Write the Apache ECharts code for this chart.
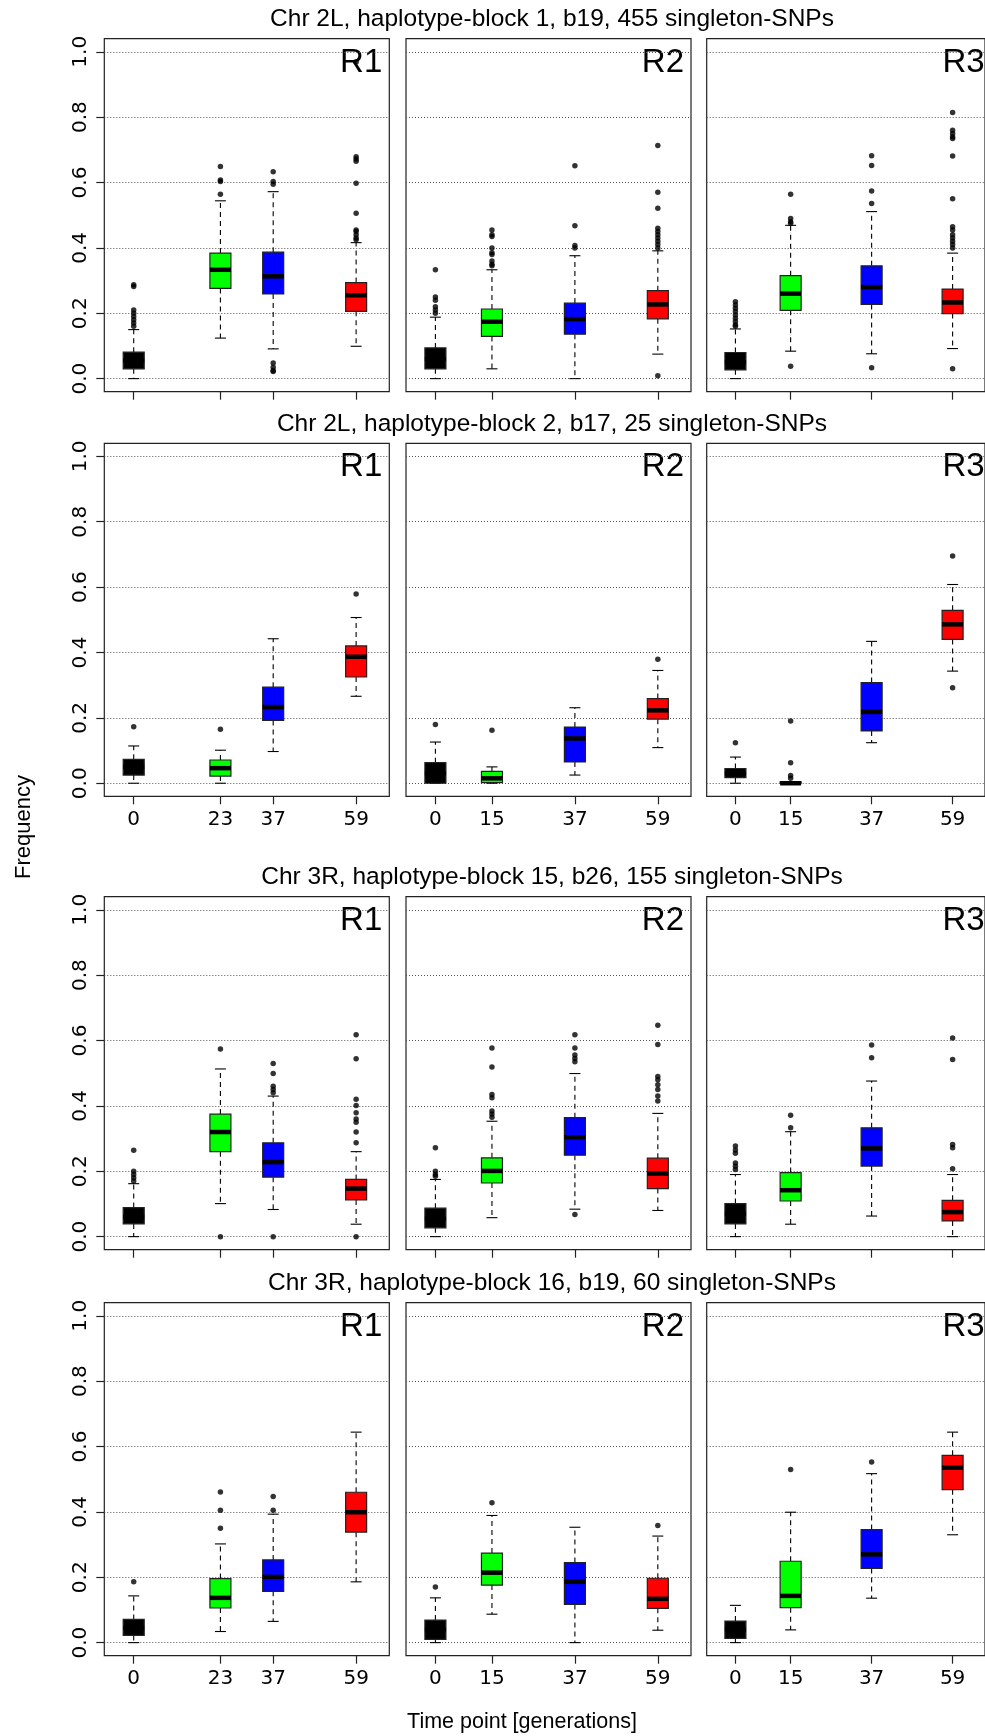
<!DOCTYPE html>
<html>
<head>
<meta charset="utf-8">
<script src="https://cdn.jsdelivr.net/npm/echarts@6/dist/echarts.min.js"></script>
<style>
  html, body { margin: 0; padding: 0; background: #ffffff; }
  #chart { width: 985px; height: 1736px; }
</style>
</head>
<body>
<div id="chart"></div>
<script>
// Sampled generations per replicate
const timeR1 = [0, 23, 37, 59];
const timeR2 = [0, 15, 37, 59];
const timeR3 = [0, 15, 37, 59];
const replicates = ['R1', 'R2', 'R3'];
const blockTitles = [
  'Chr 2L, haplotype-block 1, b19, 455 singleton-SNPs',
  'Chr 2L, haplotype-block 2, b17, 25 singleton-SNPs',
  'Chr 3R, haplotype-block 15, b26, 155 singleton-SNPs',
  'Chr 3R, haplotype-block 16, b19, 60 singleton-SNPs'
];
const yTicks = [0, 0.2, 0.4, 0.6, 0.8, 1.0];
const timeColors = ['#000000', '#00ff00', '#0000ff', '#ff0000'];

// Box statistics per time point: [lower whisker, Q1, median, Q3, upper whisker]
// Block 1
const b1R1 = [[0.000, 0.030, 0.055, 0.081, 0.150], [0.124, 0.276, 0.333, 0.384, 0.544], [0.091, 0.259, 0.313, 0.387, 0.572], [0.099, 0.206, 0.255, 0.294, 0.416]];
const b1R1Out = [[0.287, 0.282, 0.21, 0.20, 0.19, 0.18, 0.17, 0.16], [0.649, 0.608, 0.603, 0.564], [0.633, 0.603, 0.595, 0.048, 0.035, 0.025, 0.022], [0.969, 0.679, 0.672, 0.665, 0.598, 0.506, 0.455, 0.45, 0.44, 0.43, 0.425]];
const b1R2 = [[0.000, 0.030, 0.060, 0.094, 0.188], [0.030, 0.129, 0.174, 0.213, 0.333], [0.000, 0.136, 0.182, 0.231, 0.376], [0.075, 0.183, 0.227, 0.269, 0.391]];
const b1R2Out = [[0.333, 0.25, 0.24, 0.22, 0.21, 0.20], [0.455, 0.44, 0.435, 0.40, 0.385, 0.38, 0.36, 0.35, 0.345], [0.651, 0.468, 0.407, 0.40], [0.713, 0.57, 0.521, 0.46, 0.45, 0.44, 0.43, 0.42, 0.41, 0.40, 0.009]];
const b1R3 = [[0.000, 0.027, 0.050, 0.080, 0.152], [0.084, 0.209, 0.260, 0.315, 0.469], [0.076, 0.227, 0.280, 0.345, 0.511], [0.092, 0.199, 0.233, 0.274, 0.384]];
const b1R3Out = [[0.235, 0.225, 0.215, 0.205, 0.195, 0.185, 0.175, 0.165, 0.16], [0.564, 0.49, 0.48, 0.475, 0.038], [0.682, 0.652, 0.574, 0.536, 0.033], [0.814, 0.76, 0.75, 0.74, 0.735, 0.681, 0.55, 0.465, 0.455, 0.44, 0.43, 0.42, 0.41, 0.40, 0.03]];
// Block 2
const b2R1 = [[0.000, 0.025, 0.050, 0.073, 0.114], [0.000, 0.022, 0.046, 0.071, 0.101], [0.097, 0.192, 0.233, 0.294, 0.442], [0.266, 0.325, 0.387, 0.420, 0.507]];
const b2R1Out = [[0.173], [0.165], [], [0.579]];
const b2R2 = [[0.000, 0.000, 0.030, 0.063, 0.126], [0.000, 0.002, 0.015, 0.036, 0.050], [0.025, 0.065, 0.137, 0.172, 0.231], [0.109, 0.196, 0.223, 0.259, 0.345]];
const b2R2Out = [[0.18], [0.162], [], [0.379]];
const b2R3 = [[0.000, 0.017, 0.030, 0.045, 0.080], [0.000, 0.000, 0.000, 0.004, 0.004], [0.124, 0.160, 0.218, 0.308, 0.434], [0.343, 0.440, 0.486, 0.529, 0.608]];
const b2R3Out = [[0.124], [0.19, 0.063, 0.024, 0.015], [], [0.695, 0.292]];
// Block 15
const b3R1 = [[0.000, 0.039, 0.060, 0.089, 0.162], [0.101, 0.260, 0.320, 0.375, 0.513], [0.083, 0.182, 0.228, 0.287, 0.430], [0.038, 0.112, 0.147, 0.175, 0.260]];
const b3R1Out = [[0.264, 0.20, 0.19, 0.18, 0.17], [0.574, 0.0], [0.53, 0.499, 0.46, 0.45, 0.44, 0.0], [0.618, 0.544, 0.42, 0.401, 0.379, 0.36, 0.35, 0.32, 0.287, 0.0]];
const b3R2 = [[0.000, 0.027, 0.055, 0.087, 0.175], [0.058, 0.164, 0.201, 0.241, 0.353], [0.084, 0.249, 0.304, 0.364, 0.499], [0.080, 0.147, 0.193, 0.240, 0.377]];
const b3R2Out = [[0.272, 0.20, 0.19, 0.185], [0.577, 0.519, 0.435, 0.425, 0.384, 0.375, 0.365], [0.618, 0.577, 0.556, 0.545, 0.535, 0.068], [0.647, 0.588, 0.49, 0.48, 0.465, 0.45, 0.43, 0.415]];
const b3R3 = [[0.000, 0.039, 0.070, 0.101, 0.190], [0.038, 0.109, 0.142, 0.196, 0.321], [0.063, 0.216, 0.270, 0.333, 0.476], [0.000, 0.048, 0.075, 0.111, 0.190]];
const b3R3Out = [[0.277, 0.265, 0.255, 0.225, 0.215, 0.205], [0.371, 0.333], [0.586, 0.547], [0.608, 0.542, 0.282, 0.272, 0.208]];
// Block 16
const b4R1 = [[0.000, 0.022, 0.045, 0.071, 0.143], [0.034, 0.106, 0.137, 0.196, 0.302], [0.065, 0.157, 0.201, 0.253, 0.393], [0.186, 0.338, 0.399, 0.460, 0.644]];
const b4R1Out = [[0.186], [0.461, 0.405, 0.35], [0.447, 0.405], []];
const b4R2 = [[0.000, 0.010, 0.040, 0.069, 0.137], [0.087, 0.176, 0.214, 0.274, 0.389], [0.000, 0.117, 0.186, 0.245, 0.353], [0.038, 0.105, 0.134, 0.197, 0.326]];
const b4R2Out = [[0.17], [0.428], [], [0.358]];
const b4R3 = [[0.000, 0.013, 0.040, 0.066, 0.114], [0.039, 0.107, 0.143, 0.249, 0.399], [0.136, 0.227, 0.270, 0.346, 0.517], [0.330, 0.468, 0.535, 0.573, 0.644]];
const b4R3Out = [[], [0.53], [0.553], []];

const boxStats = [[b1R1, b1R2, b1R3], [b2R1, b2R2, b2R3], [b3R1, b3R2, b3R3], [b4R1, b4R2, b4R3]];
const outStats = [[b1R1Out, b1R2Out, b1R3Out], [b2R1Out, b2R2Out, b2R3Out], [b3R1Out, b3R2Out, b3R3Out], [b4R1Out, b4R2Out, b4R3Out]];
const timeByRep = [timeR1, timeR2, timeR3];

// Panel geometry (pixels)
const colLeft = [104.3, 406, 706.7];
const rowTop = [38.7, 443.3, 896.7, 1302.7];
const panelW = 285, panelH = 353;
const labelledRows = [1, 3];

const FONT_TEXT = 'Liberation Sans, Arial, Helvetica, sans-serif';
const FONT_TICK = 'DejaVu Sans, sans-serif';

function renderBox(params, api) {
  const x = api.value(0);
  const lo = api.coord([x, api.value(1)]);
  const q1 = api.coord([x, api.value(2)]);
  const md = api.coord([x, api.value(3)]);
  const q3 = api.coord([x, api.value(4)]);
  const hi = api.coord([x, api.value(5)]);
  const color = timeColors[api.value(6)];
  const cx = lo[0];
  const hw = 10.5, cap = 5.5;
  const dash = { stroke: '#000', lineWidth: 1.1, lineDash: [5, 4] };
  const solid = { stroke: '#000', lineWidth: 1.1 };
  return {
    type: 'group',
    children: [
      { type: 'line', shape: { x1: cx, y1: q3[1], x2: cx, y2: hi[1] }, style: dash },
      { type: 'line', shape: { x1: cx, y1: q1[1], x2: cx, y2: lo[1] }, style: dash },
      { type: 'line', shape: { x1: cx - cap, y1: hi[1], x2: cx + cap, y2: hi[1] }, style: solid },
      { type: 'line', shape: { x1: cx - cap, y1: lo[1], x2: cx + cap, y2: lo[1] }, style: solid },
      { type: 'rect', shape: { x: cx - hw, y: q3[1], width: 2 * hw, height: q1[1] - q3[1] },
        style: { fill: color, stroke: '#222', lineWidth: 1.2 } },
      { type: 'line', shape: { x1: cx - hw, y1: md[1], x2: cx + hw, y2: md[1] },
        style: { stroke: '#000', lineWidth: 4.5 } }
    ]
  };
}

const grid = [], xAxis = [], yAxis = [], series = [], graphic = [];

for (let r = 0; r < 4; r++) {
  for (let c = 0; c < 3; c++) {
    const idx = r * 3 + c;
    const times = timeByRep[c];
    grid.push({
      left: colLeft[c], top: rowTop[r], width: panelW, height: panelH,
      show: true, borderColor: '#222', borderWidth: 1.2, backgroundColor: 'transparent'
    });
    xAxis.push({
      type: 'value', gridIndex: idx, min: -7.8, max: 67.8, position: 'bottom',
      axisLine: { show: false, onZero: false },
      axisTick: { show: true, inside: false, length: 8, customValues: times, lineStyle: { color: '#222', width: 1.2 } },
      axisLabel: {
        show: labelledRows.includes(r), customValues: times, margin: 13,
        fontFamily: FONT_TICK, fontSize: 20, color: '#000'
      },
      splitLine: { show: false }
    });
    yAxis.push({
      type: 'value', gridIndex: idx, min: -0.04, max: 1.04, position: 'left',
      axisLine: { show: false, onZero: false },
      axisTick: { show: c === 0, inside: false, length: 8, customValues: yTicks, lineStyle: { color: '#222', width: 1.2 } },
      axisLabel: {
        show: c === 0, customValues: yTicks, rotate: 90, margin: 14,
        fontFamily: FONT_TICK, fontSize: 20, color: '#000',
        formatter: v => v.toFixed(1)
      },
      splitLine: { show: true, lineStyle: { color: '#555', width: 1, type: [1, 2] } }
    });
    const boxes = boxStats[r][c].map((s, i) => [times[i], s[0], s[1], s[2], s[3], s[4], i]);
    series.push({
      type: 'custom', xAxisIndex: idx, yAxisIndex: idx,
      renderItem: renderBox, data: boxes, clip: false,
      encode: { x: 0, y: [1, 2, 3, 4, 5] }, z: 3
    });
    const outliers = [];
    outStats[r][c].forEach((vals, i) => vals.forEach(v => outliers.push([times[i], v])));
    series.push({
      type: 'scatter', xAxisIndex: idx, yAxisIndex: idx, data: outliers,
      symbol: 'circle', symbolSize: 5.5, itemStyle: { color: '#000' }, z: 4, silent: true
    });
    graphic.push({
      type: 'text', x: colLeft[c] + panelW - 7, y: rowTop[r] + 24,
      style: { text: replicates[c], font: '33px ' + FONT_TEXT, fill: '#000', align: 'right', verticalAlign: 'middle' }
    });
  }
  graphic.push({
    type: 'text', x: 552, y: rowTop[r] - 19,
    style: { text: blockTitles[r], font: '24.5px ' + FONT_TEXT, fill: '#000', align: 'center', verticalAlign: 'middle' }
  });
}

graphic.push({
  type: 'text', x: 24, y: 827, rotation: Math.PI / 2,
  style: { text: 'Frequency', font: '22px ' + FONT_TEXT, fill: '#000', align: 'center', verticalAlign: 'middle' }
});
graphic.push({
  type: 'text', x: 522, y: 1722,
  style: { text: 'Time point [generations]', font: '21.5px ' + FONT_TEXT, fill: '#000', align: 'center', verticalAlign: 'middle' }
});

const chart = echarts.init(document.getElementById('chart'), null, { renderer: 'canvas' });
chart.setOption({
  animation: false,
  backgroundColor: '#ffffff',
  grid, xAxis, yAxis, series, graphic
});
</script>
</body>
</html>
